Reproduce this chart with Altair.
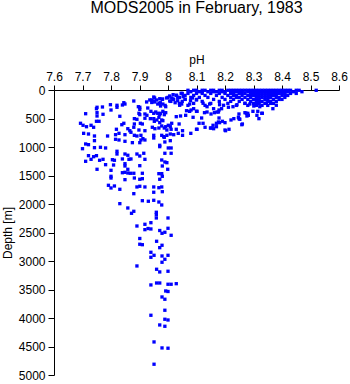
import altair as alt
import pandas as pd

# ---- axis ticks ----
x_ticks = [7.6, 7.7, 7.8, 7.9, 8.0, 8.1, 8.2, 8.3, 8.4, 8.5, 8.6]
y_ticks = [0, 500, 1000, 1500, 2000, 2500, 3000, 3500, 4000, 4500, 5000]

# ---- dense near-surface band: depth rows and their pH values ----
surface_depths = [5, 30, 60, 95, 130, 165, 200, 235, 270]
surface_ph = [
    [8.07, 8.09, 8.10, 8.12, 8.13, 8.15, 8.16, 8.18, 8.19, 8.21, 8.22, 8.23, 8.24, 8.25, 8.26,
     8.27, 8.28, 8.29, 8.30, 8.31, 8.32, 8.33, 8.34, 8.35, 8.36, 8.37, 8.38, 8.39, 8.40, 8.41,
     8.42, 8.43, 8.45, 8.46, 8.52],
    [8.08, 8.11, 8.12, 8.14, 8.16, 8.17, 8.19, 8.20, 8.22, 8.23, 8.24, 8.25, 8.26, 8.28, 8.29,
     8.30, 8.31, 8.32, 8.33, 8.34, 8.35, 8.36, 8.37, 8.38, 8.39, 8.40, 8.41, 8.42, 8.44, 8.47],
    [8.05, 8.07, 8.10, 8.12, 8.15, 8.18, 8.20, 8.22, 8.23, 8.25, 8.26, 8.27, 8.29, 8.30, 8.31,
     8.32, 8.33, 8.34, 8.35, 8.36, 8.37, 8.38, 8.39, 8.40, 8.41, 8.43, 8.45],
    [8.03, 8.06, 8.09, 8.13, 8.17, 8.21, 8.23, 8.24, 8.26, 8.28, 8.29, 8.30, 8.31, 8.32, 8.33,
     8.34, 8.35, 8.36, 8.37, 8.38, 8.40, 8.41, 8.42],
    [8.00, 8.04, 8.08, 8.11, 8.14, 8.19, 8.22, 8.24, 8.25, 8.27, 8.29, 8.31, 8.32, 8.33, 8.34,
     8.35, 8.36, 8.38, 8.39, 8.41],
    [7.98, 8.02, 8.06, 8.10, 8.16, 8.20, 8.23, 8.26, 8.28, 8.30, 8.31, 8.32, 8.34, 8.35, 8.37,
     8.39, 8.40],
    [7.95, 8.01, 8.05, 8.12, 8.18, 8.22, 8.25, 8.29, 8.31, 8.32, 8.33, 8.35, 8.36, 8.38],
    [7.97, 8.04, 8.09, 8.15, 8.21, 8.27, 8.30, 8.32, 8.34, 8.36, 8.37],
    [7.99, 8.07, 8.13, 8.24, 8.28, 8.31, 8.33, 8.35],
]

# ---- scattered samples (upper ocean, left branch) ----
upper_ph = [
    7.880, 7.845, 7.849, 7.840, 7.821, 7.821, 7.798, 7.800, 7.770, 7.751, 7.901, 7.901, 7.929,
    7.943, 7.953, 7.964, 7.974, 7.751, 7.751, 7.772, 7.711, 7.831, 7.882, 7.891, 7.919, 7.926,
    7.919, 7.938, 7.950, 7.973, 7.968, 7.978, 7.758, 7.749, 7.693, 7.702, 7.714, 7.730, 7.739,
    7.845, 7.838, 7.882, 7.903, 7.910, 7.859, 7.866, 7.870, 7.819, 7.880, 7.898, 7.919, 7.945,
    7.954, 7.968, 7.704, 7.721, 7.742, 7.742, 7.788, 7.816, 7.828, 7.849, 7.882, 7.891, 7.905,
    7.912, 7.919, 7.950, 7.950, 7.985, 7.816, 7.828, 7.849, 7.875, 7.901, 7.905, 7.711, 7.721,
    7.700, 7.742, 7.763, 7.781, 7.821, 7.821, 7.849, 7.859, 7.891, 7.915, 7.971, 7.739, 7.749,
    7.896, 7.898, 7.901, 7.925, 7.936, 7.950, 7.960, 7.981, 7.995, 8.006, 8.017,
]
upper_depth = [
    193, 223, 246, 263, 268, 303, 258, 351, 298, 303, 303, 339, 316,
    219, 210, 246, 281, 398, 456, 426, 416, 461, 503, 514, 421, 444,
    496, 503, 409, 409, 479, 526, 549, 549, 584, 619, 644, 619, 654,
    584, 609, 596, 584, 596, 679, 714, 742, 689, 654, 702, 714, 654,
    679, 667, 760, 772, 807, 889, 807, 784, 760, 784, 795, 807, 795,
    854, 877, 795, 842, 819, 865, 877, 900, 924, 924, 877, 947, 959,
    1030, 1012, 1005, 1017, 1075, 1123, 1123, 1145, 1123, 1110, 994, 1170, 328,
    293, 409, 433, 210, 175, 123, 175, 158, 140, 193, 158,
]

# ---- scattered samples (upper ocean, right branch) ----
right_ph = [
    7.940, 7.957, 7.964, 7.971, 7.982, 7.987, 7.992, 7.950, 7.952, 7.961, 7.971, 7.982, 7.978,
    7.987, 7.996, 8.008, 8.013, 7.978, 7.987, 7.996, 8.008, 8.020, 7.971, 8.001, 8.011, 7.989,
    8.011, 7.978, 7.989, 7.996, 7.999, 8.029, 8.044, 8.062, 8.076, 8.088, 8.100, 8.118, 8.039,
    8.051, 8.051, 8.029, 8.080, 8.100, 8.109, 8.130, 8.149, 8.158, 8.170, 8.177, 8.128, 8.137,
    8.151, 8.163, 8.177, 8.179, 8.191, 8.200, 8.200, 8.221, 8.231, 8.249, 8.249, 8.259, 8.270,
    8.280, 8.277, 8.298, 8.312, 8.319, 8.331, 8.275, 8.282, 8.315, 8.329, 8.345, 8.368, 8.380,
    8.247, 8.252, 8.261, 8.214, 8.202, 7.943, 7.953, 7.971, 7.973, 7.982, 7.992, 8.006, 8.013,
    8.018, 8.029, 8.034, 8.046, 8.053, 8.060, 8.025, 8.034, 8.041, 8.048, 8.076, 8.081, 8.065,
    8.090, 8.102, 8.079, 8.086, 8.100, 8.123, 8.137, 8.146, 8.160, 8.172, 8.179, 8.188, 8.181,
    8.195, 8.212, 8.228, 8.242, 8.270, 8.287, 8.301, 8.310, 8.322, 8.123, 8.170, 8.181, 8.160,
    8.151, 8.102, 8.036, 8.011, 7.992, 8.001, 8.008, 7.989,
]
right_depth = [
    374, 386, 409, 433, 374, 433, 398, 503, 549, 526, 573, 538, 631,
    667, 702, 644, 584, 795, 830, 795, 772, 784, 970, 1017, 1017, 1110,
    1110, 1228, 1263, 1275, 1391, 468, 456, 444, 374, 479, 374, 491, 596,
    714, 795, 689, 760, 689, 584, 654, 667, 619, 584, 561, 398, 386,
    421, 398, 386, 491, 549, 573, 702, 526, 503, 421, 503, 609, 398,
    409, 456, 374, 444, 503, 409, 409, 444, 374, 409, 233, 328, 268,
    479, 514, 596, 689, 714, 175, 140, 153, 223, 246, 293, 105, 140,
    82, 93, 128, 58, 117, 163, 223, 188, 268, 246, 246, 351, 363,
    328, 374, 188, 140, 175, 233, 293, 246, 328, 386, 351, 328, 258,
    268, 303, 293, 258, 233, 246, 281, 246, 293, 584, 644, 573, 679,
    667, 689, 760, 689, 644, 619, 889, 912,
]

# ---- intermediate depths (1100-2100 m) ----
mid_ph = [
    7.721, 7.749, 7.711, 7.730, 7.760, 7.772, 7.805, 7.812, 7.840, 7.863, 7.870, 7.901, 7.919,
    7.849, 7.849, 7.781, 7.809, 7.901, 7.980, 7.751, 7.800, 7.859, 7.840, 7.849, 7.859, 7.868,
    7.880, 7.910, 7.968, 7.978, 7.800, 7.800, 7.882, 7.849, 7.901, 7.910, 7.971, 7.980, 7.791,
    7.800, 7.812, 7.831, 7.891, 7.901, 7.919, 7.950, 7.968, 7.978, 7.950, 7.980, 7.880, 7.910,
    7.931, 7.950, 7.968, 7.831, 7.978, 7.859,
]
mid_depth = [
    1152, 1152, 1251, 1216, 1233, 1216, 1223, 1233, 1210, 1216, 1210, 1158, 1216,
    1293, 1333, 1310, 1316, 1328, 1333, 1391, 1409, 1391, 1451, 1444, 1456, 1461,
    1461, 1461, 1468, 1468, 1514, 1544, 1544, 1573, 1566, 1556, 1566, 1514, 1672,
    1719, 1684, 1742, 1701, 1689, 1701, 1701, 1714, 1701, 1794, 1784, 1819, 1942,
    1952, 1935, 1965, 1994, 2017, 2070,
]

# ---- deep ocean samples ----
deep_ph = [
    7.872, 7.880, 7.959, 7.959, 7.959, 8.000, 7.891, 7.919, 7.940, 7.930, 7.940, 7.919, 7.971,
    8.000, 7.989, 7.979, 8.011, 7.901, 7.960, 7.901, 7.910, 7.979, 7.971, 7.940, 7.951, 7.940,
    7.979, 8.000, 7.989, 7.979, 7.891, 7.960, 7.971, 8.000, 7.940, 7.960, 7.971, 8.000, 8.011,
    8.029, 7.992, 8.000, 7.979, 7.989, 7.989, 7.940, 7.989, 8.000, 7.971, 7.989, 7.951, 7.979,
    8.000, 7.951,
]
deep_depth = [
    2163, 2128, 2145, 2187, 2245, 2245, 2386, 2356, 2328, 2430, 2438, 2450, 2465,
    2426, 2496, 2514, 2549, 2605, 2654, 2706, 2714, 2724, 2766, 2847, 2900, 2935,
    2912, 2900, 2970, 3022, 3087, 3145, 3192, 3180, 3420, 3386, 3386, 3408, 3408,
    3398, 3526, 3535, 3631, 3671, 3864, 3952, 4022, 4035, 4122, 4145, 4420, 4525,
    4530, 4811,
]

# ---- assemble table ----
rows = []
for d, phs in zip(surface_depths, surface_ph):
    for p in phs:
        rows.append({"ph": p, "depth": d})
for phs, ds in [(upper_ph, upper_depth), (right_ph, right_depth),
                (mid_ph, mid_depth), (deep_ph, deep_depth)]:
    for p, d in zip(phs, ds):
        rows.append({"ph": p, "depth": d})
df = pd.DataFrame(rows)

FONT = "Liberation Sans"

chart = (
    alt.Chart(df)
    .mark_square(size=11, color="#0000ff", opacity=1, strokeWidth=0)
    .encode(
        x=alt.X(
            "ph:Q",
            scale=alt.Scale(domain=[7.6, 8.6], nice=False, zero=False),
            axis=alt.Axis(
                orient="top", title="pH", values=x_ticks, format="~g", grid=False,
                tickSize=5, labelPadding=2, titlePadding=4, labelFlush=False,
                labelOverlap=False, domainColor="black", tickColor="black",
                labelColor="black", titleColor="black", labelFont=FONT,
                titleFont=FONT, labelFontSize=12, titleFontSize=12,
                titleFontWeight="normal", labelAngle=0,
            ),
        ),
        y=alt.Y(
            "depth:Q",
            scale=alt.Scale(domain=[0, 5000], reverse=True, nice=False),
            axis=alt.Axis(
                title="Depth [m]", values=y_ticks, format="d", grid=False,
                tickSize=6, labelPadding=3, titlePadding=4, labelOverlap=False,
                domainColor="black", tickColor="black", labelColor="black",
                titleColor="black", labelFont=FONT, titleFont=FONT,
                labelFontSize=12, titleFontSize=12, titleFontWeight="normal",
            ),
        ),
    )
    .properties(
        width=285,
        height=285,
        padding={"left": 54, "top": 90, "right": 11, "bottom": 9},
        autosize=alt.AutoSizeParams(type="none"),
        title=alt.TitleParams(
            "MODS2005 in February, 1983", font=FONT, fontSize=16,
            fontWeight="normal", color="black", anchor="middle", offset=37,
        ),
    )
    .configure_view(strokeWidth=0)
)

chart.save("out.html", embed_options={"renderer": "svg", "actions": False})
